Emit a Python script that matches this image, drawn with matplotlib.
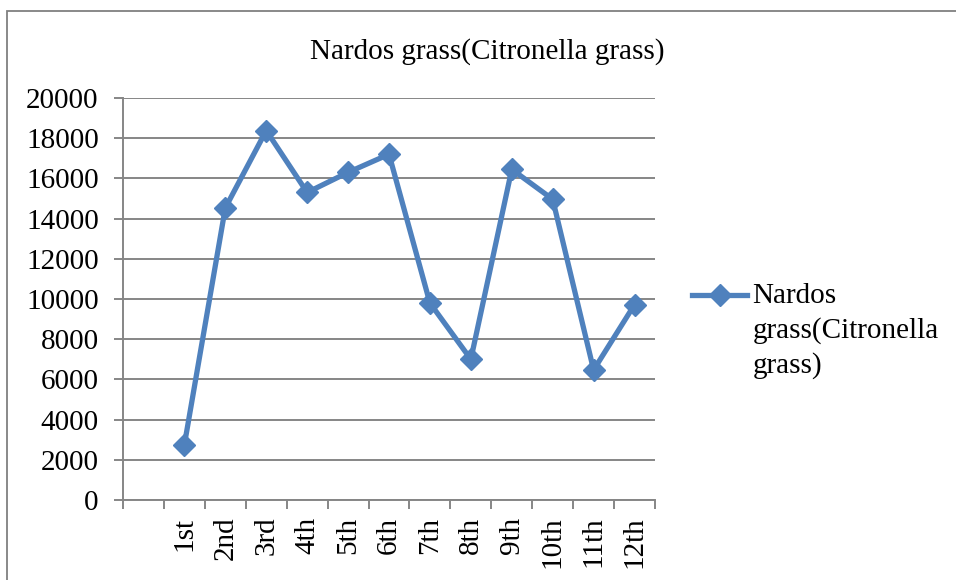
import numpy as np
import matplotlib
matplotlib.use("Agg")
import matplotlib.pyplot as plt
from matplotlib.patches import Rectangle

plt.rcParams['font.family'] = ['Liberation Serif', 'DejaVu Serif']

# data
categories = ["", "1st", "2nd", "3rd", "4th", "5th", "6th",
              "7th", "8th", "9th", "10th", "11th", "12th"]
values = [2750, 14530, 18380, 15300, 16300, 17200,
          9800, 7000, 16450, 14960, 6470, 9720]
series_name = "Nardos grass(Citronella grass)"
yticks = np.arange(0, 20001, 2000)

blue = "#4F81BD"
grid_gray = "#868686"
fs = 21

fig = plt.figure(figsize=(9.56, 5.80), dpi=100)
ax = fig.add_axes([123 / 956, 80 / 580, 532 / 956, 402 / 580])

# first category slot is blank, points start at slot 1
x = np.arange(1, len(values) + 1)
ax.plot(x, values, color=blue, lw=3.8, marker="D", markersize=11,
        markerfacecolor=blue, markeredgecolor=blue, label=series_name,
        solid_joinstyle="miter", clip_on=False, zorder=3)

ax.set_xlim(-0.5, len(categories) - 0.5)
ax.set_ylim(0, 20000)

# category boundary ticks + centered labels
ax.set_xticks(np.arange(-0.5, len(categories), 1.0))
ax.set_xticklabels([])
ax.set_xticks(np.arange(len(categories)), minor=True)
ax.set_xticklabels(categories, minor=True, rotation=90, fontsize=fs)
ax.tick_params(axis="x", which="major", length=6.5, width=1.4,
               color=grid_gray, direction="out")
ax.tick_params(axis="x", which="minor", length=0, pad=12)

ax.set_yticks(yticks)
ax.set_yticklabels([str(v) for v in yticks], fontsize=fs)
ax.tick_params(axis="y", length=6.5, width=1.4, color=grid_gray, pad=11)

ax.yaxis.grid(True, color=grid_gray, lw=1.4)
ax.set_axisbelow(True)
for s in ["top", "right"]:
    ax.spines[s].set_visible(False)
for s in ["left", "bottom"]:
    ax.spines[s].set_color(grid_gray)
    ax.spines[s].set_linewidth(1.4)

fig.text(487 / 956, 1 - 52 / 580, series_name, fontsize=fs,
         ha="center", va="center")

leg = fig.legend(handles=ax.get_lines(),
                 labels=["Nardos\ngrass(Citronella\ngrass)"],
                 loc="upper left", bbox_to_anchor=(692 / 956, 1 - 283 / 580),
                 frameon=False, fontsize=fs, handlelength=1.9,
                 handletextpad=0.18, borderpad=0, borderaxespad=0,
                 handleheight=1.0, labelspacing=0)
leg.get_texts()[0].set_linespacing(1.38)
# keep the legend marker level with the first text line
item = leg._legend_handle_box.get_children()[0].get_children()[0]
item.align = "top"

# outer chart frame (right and bottom edges run off the picture)
fig.patches.append(Rectangle((7 / 956, -0.1), 1.2, 1.1 - 11 / 580,
                             transform=fig.transFigure, fill=False,
                             edgecolor="#808080", lw=1.3))

fig.savefig("out.png", dpi=100)
